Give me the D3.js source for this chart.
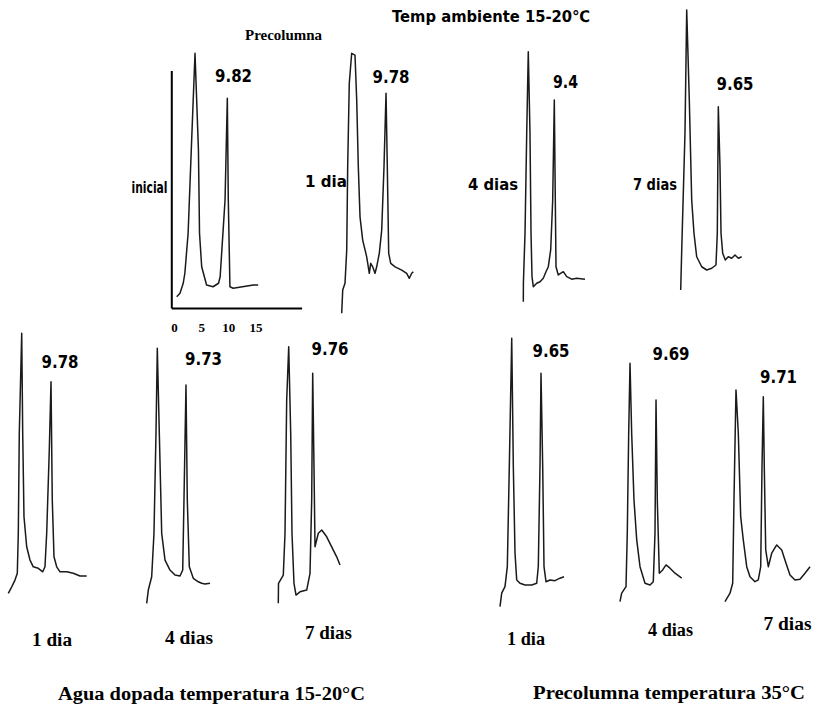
<!DOCTYPE html>
<html>
<head>
<meta charset="utf-8">
<script src="https://cdn.jsdelivr.net/npm/d3@7"></script>
<style>
  html, body { margin: 0; padding: 0; background: #fff; }
  svg { display: block; }
  .sans { font-family: "DejaVu Sans", "Liberation Sans", sans-serif; font-weight: bold; }
  .serif { font-family: "Liberation Serif", "DejaVu Serif", serif; font-weight: bold; }
</style>
</head>
<body>
<div id="chart"></div>
<script>
// chromatogram labels
const dayLabels = ["inicial", "1 dia", "4 dias", "7 dias", "1 dia", "4 dias", "7 dias", "1 dia", "4 dias", "7 dias"];
const retention = ["9.82", "9.78", "9.4", "9.65", "9.78", "9.73", "9.76", "9.65", "9.69", "9.71"];

// traces: [time (min), signal (rel. units)]
const traceInicial = [[0.5,4.5],[1.1,5.9],[1.7,9.9],[2.0,13.9],[2.6,29.9],[3.3,69.9],[3.87,101.9],[4.5,63.2],[4.7,29.9],[5.1,16.5],[6.0,9.2],[7.2,8.5],[8.2,9.9],[8.5,12.5],[9.4,43.2],[9.82,83.9],[10.0,43.2],[10.3,8.5],[10.9,7.9],[14.6,9.2],[15.5,9.2]];
const traceTop1 = [[1.48,0],[1.67,9.3],[2.10,12],[2.42,25.3],[2.60,58.6],[2.90,92],[3.35,104],[3.97,103.3],[4.29,85.3],[4.59,58.6],[4.91,38.6],[5.41,29.3],[6.16,22.6],[6.65,16],[6.91,20],[7.28,18.6],[7.72,16],[8.03,18.6],[8.52,24],[8.97,33.3],[9.40,58.6],[9.78,88],[10.02,58.6],[10.28,24],[10.66,20],[11.48,18.6],[12.72,17.3],[13.65,16],[14.14,14],[14.59,16],[14.89,16.6]];
const traceTop4 = [[2.48,0],[2.5,7.4],[2.86,27.4],[3.24,67.4],[3.59,100],[3.97,67.4],[4.20,27.4],[4.42,10],[4.71,6],[5.47,7.4],[6.21,8],[6.94,9.4],[7.54,12],[8.06,14],[8.59,20.7],[9.04,40.7],[9.40,80.7],[9.62,40.7],[9.78,14],[10.29,10.7],[11.41,12],[12.17,10],[13.28,9],[14.40,9.4],[16.25,9]];
const traceTop7 = [[2.26,0],[2.46,16],[3.10,62.7],[3.44,112],[3.95,76],[4.42,36],[4.87,22.7],[5.40,13.3],[6.39,9.3],[7.37,8],[8.35,8.7],[9.19,10],[9.45,22.7],[9.65,73.3],[9.98,49.3],[10.18,22.7],[10.51,14.7],[11.02,12],[11.61,13.3],[12.28,12.7],[12.93,14],[13.58,12.7],[14.24,13.3]];
const traceAgua1 = [[0.78,0],[1.50,2.6],[2.19,5.3],[2.68,8],[2.89,24],[3.10,64],[3.61,104],[3.82,64],[4.09,30.6],[4.66,18.6],[5.36,13.3],[6.05,10.6],[7.11,10],[8.04,8.6],[8.52,10.6],[8.88,24],[9.43,57.3],[9.79,84.6],[10.06,37.3],[10.42,14.6],[10.99,10.6],[11.69,8.6],[13.10,8.6],[14.49,8],[15.91,6.9],[17.32,6.9]];
const traceAgua4 = [[1.32,0],[1.67,5.3],[2.39,10.6],[2.88,28],[3.31,68],[3.59,102],[4.02,68],[4.53,28],[5.24,17.3],[6.30,13.3],[7.37,11.3],[8.44,10.9],[9.02,13.3],[9.29,41.3],[9.72,87.3],[10.00,41.3],[10.43,14.6],[11.28,10],[12.35,8.6],[13.08,8],[13.78,7.7],[14.85,8]];
const traceAgua7 = [[0.95,0],[1.0,8],[2.23,11.3],[2.67,28],[3.10,81.3],[3.62,102.6],[4.13,68],[4.46,28],[4.97,8],[5.49,3.3],[6.51,4.6],[8.23,5.3],[9.08,12],[9.51,41.3],[9.77,92],[10.10,54.6],[10.36,22.6],[11.21,28],[12.08,29.3],[13.36,26.6],[14.64,22.6],[15.92,18.6],[16.77,15.3]];
const tracePre1 = [[1.18,0],[1.53,5.4],[2.21,8],[2.69,16],[3.10,56],[3.60,107.4],[3.93,56],[4.28,21.4],[4.63,10.7],[5.31,9.4],[6.34,8.7],[7.73,8.7],[8.76,9.4],[9.09,16],[9.44,56],[9.65,93.4],[10.00,56],[10.27,16],[10.68,10],[11.51,10.7],[12.54,10.4],[13.57,11.4],[14.40,12]];
const tracePre4 = [[1.26,0],[1.66,3.4],[2.67,6],[2.97,27.4],[3.30,67.4],[3.61,95.4],[4.00,67.4],[4.54,40.7],[5.18,24.7],[5.95,14],[7.12,7.4],[8.29,6.7],[9.06,8],[9.46,27.4],[9.70,80.7],[10.00,40.7],[10.47,11.4],[11.26,12.7],[12.04,14.7],[12.97,13.4],[14.15,11.4],[15.71,9.4]];
const tracePre7 = [[1.14,0],[2.26,3.4],[2.86,7.4],[3.15,40.7],[3.60,84.7],[4.12,67.4],[4.65,34],[5.23,24.7],[6.00,14],[6.73,10],[7.85,8],[8.59,8.7],[9.13,14],[9.42,54],[9.71,82],[9.93,54],[10.25,20.7],[10.83,14],[11.59,19.4],[12.71,22.7],[13.83,20.7],[14.79,15.4],[15.68,10.7],[16.80,8.7],[17.92,9],[19.04,11.4],[20.16,14]];
const traces = [traceInicial, traceTop1, traceTop4, traceTop7, traceAgua1, traceAgua4, traceAgua7, tracePre1, tracePre4, tracePre7];

// axis of the first chromatogram
const axisTime = [-0.5, 23.5];
const axisSignal = [0, 95];
const axisTicks = [0, 5, 10, 15];

// group titles
const titleTop = "Temp ambiente 15-20\u2103";
const titlePrecolumna = "Precolumna";
const titleAgua = "Agua dopada temperatura 15-20°C";
const titlePre35 = "Precolumna temperatura 35°C";

// placement of each small chromatogram on the page
const layout = [
  { x0: 174,   k: 5.43, y0: 308,   rt: [233.5, 82],  day: [149.5, 193], dayW: 36, serif: false },
  { x0: 333.8, k: 5.34, y0: 313.3, rt: [391, 83],    day: [326, 187],   dayW: 42, serif: false },
  { x0: 512.2, k: 4.48, y0: 301.7, rt: [565.5, 88],  day: [493, 190],   dayW: 50, serif: false },
  { x0: 669.2, k: 5.09, y0: 290,   rt: [735, 90],    day: [655, 190],   dayW: 44, serif: false },
  { x0: 4.6,   k: 4.74, y0: 593.3, rt: [60, 368],    day: [52, 646],    dayW: 40, serif: true },
  { x0: 140.5, k: 4.68, y0: 603.3, rt: [203.5, 365], day: [189, 644],   dayW: 48, serif: true },
  { x0: 274.6, k: 3.9,  y0: 603.3, rt: [330, 355],   day: [328.5, 639], dayW: 47, serif: true },
  { x0: 494.3, k: 4.84, y0: 606.7, rt: [551, 357],   day: [526, 645],   dayW: 38, serif: true },
  { x0: 614.6, k: 4.27, y0: 601.7, rt: [671, 360],   day: [670.5, 636], dayW: 45, serif: true },
  { x0: 719.9, k: 4.47, y0: 601.7, rt: [778.5, 383], day: [787.5, 630], dayW: 48, serif: true }
];
const pxPerUnit = 2.5;

const width = 814, height = 708;
const svg = d3.select("#chart").append("svg")
  .attr("width", width)
  .attr("height", height);

// helper for a text that is fitted to the width it has in the scan
function label(x, y, txt, cls, size, w, anchor) {
  const t = svg.append("text")
    .attr("class", cls)
    .attr("x", x)
    .attr("y", y)
    .attr("text-anchor", anchor || "middle")
    .style("font-size", size + "px")
    .text(txt);
  if (w) t.attr("textLength", w).attr("lengthAdjust", "spacingAndGlyphs");
  return t;
}

traces.forEach((trace, i) => {
  const L = layout[i];
  const x = d3.scaleLinear().domain([0, 10]).range([L.x0, L.x0 + 10 * L.k]);
  const y = d3.scaleLinear().domain([0, 100]).range([L.y0, L.y0 - 100 * pxPerUnit]);
  const g = svg.append("g").attr("class", "chromatogram");

  // first one has its own axes
  if (i === 0) {
    const xa = x.copy().domain(axisTime).range(axisTime.map(x));
    const ya = y.copy().domain(axisSignal).range(axisSignal.map(y));
    g.append("g")
      .attr("transform", `translate(0,${y(0)})`)
      .call(d3.axisBottom(xa).tickValues(axisTicks).tickSize(0).tickPadding(15))
      .call(a => a.select(".domain").attr("stroke-width", 2))
      .call(a => a.selectAll("text").attr("class", "serif").style("font-size", "13px").attr("fill", "#000"));
    g.append("g")
      .attr("transform", `translate(${xa(axisTime[0])},0)`)
      .call(d3.axisLeft(ya).tickValues([]).tickSizeOuter(0))
      .call(a => a.select(".domain").attr("stroke-width", 2));
  }

  g.append("path")
    .datum(trace)
    .attr("fill", "none")
    .attr("stroke", "#1a1a1a")
    .attr("stroke-width", 1.5)
    .attr("stroke-linejoin", "round")
    .attr("d", d3.line().x(d => x(d[0])).y(d => y(d[1])));

  label(L.rt[0], L.rt[1], retention[i], "sans", 18, retention[i].length === 3 ? 25 : 37);
  label(L.day[0], L.day[1], dayLabels[i], L.serif ? "serif" : "sans", L.serif ? 18 : 16, L.dayW);
});

// titles
label(392, 22, titleTop, "sans", 16, 198, "start").style("font-weight", "600");
label(283.5, 40, titlePrecolumna, "serif", 14, 77);
label(211.5, 700, titleAgua, "serif", 18, 307);
label(669, 699, titlePre35, "serif", 18, 272);
</script>
</body>
</html>
